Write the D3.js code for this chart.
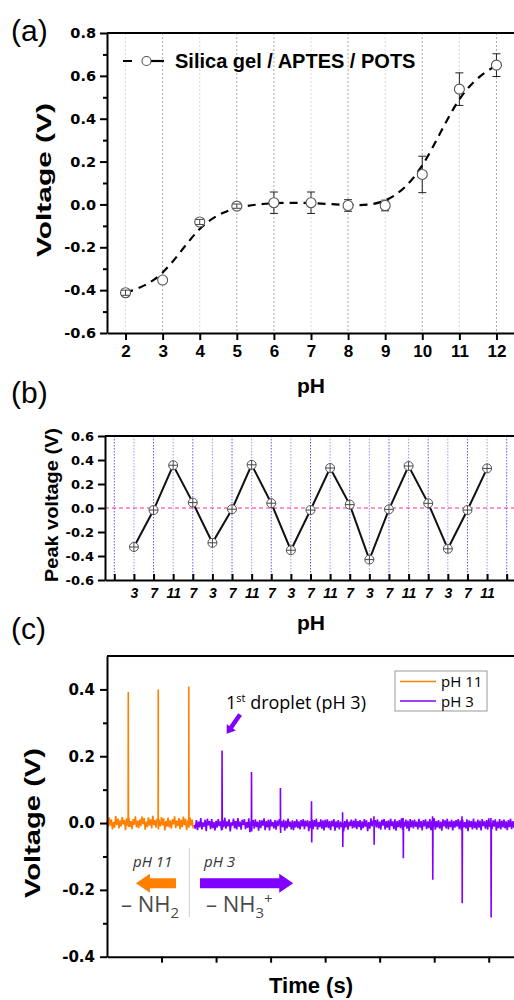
<!DOCTYPE html>
<html>
<head>
<meta charset="utf-8">
<script src="https://cdn.jsdelivr.net/npm/d3@7"></script>
<style>
body { margin: 0; background: #fff; }
</style>
</head>
<body>
<div id="chart"></div>
<script>
// ---- panel (a) ----
const phA = [2, 3, 4, 5, 6, 7, 8, 9, 10, 11, 12];
const voltA = [-0.412, -0.353, -0.082, -0.008, 0.008, 0.008, -0.005, -0.005, 0.14, 0.538, 0.65];
const errA = [0.012, 0.004, 0.012, 0.01, 0.05, 0.05, 0.027, 0.025, 0.085, 0.076, 0.053];
const yTicksA = [-0.6, -0.4, -0.2, 0.0, 0.2, 0.4, 0.6, 0.8];
const yMinorA = [-0.5, -0.3, -0.1, 0.1, 0.3, 0.5, 0.7];
const gridDarkA = [3, 5, 6, 8, 10, 12];

// ---- panel (b) ----
const phB = ["3", "7", "11", "7", "3", "7", "11", "7", "3", "7", "11", "7", "3", "7", "11", "7", "3", "7", "11"];
const peakB = [-0.325, -0.017, 0.356, 0.045, -0.29, -0.01, 0.36, 0.04, -0.352, -0.017, 0.333, 0.028, -0.43, -0.011, 0.35, 0.039, -0.34, -0.017, 0.33];
const yTicksB = [-0.6, -0.4, -0.2, 0.0, 0.2, 0.4, 0.6];

// ---- panel (c) ----
const yTicksC = [-0.4, -0.2, 0.0, 0.2, 0.4];
const yMinorC = [-0.3, -0.1, 0.1, 0.3];
const xTicksC = [1, 2, 3, 4, 5, 6, 7];
const dtC = 0.02;
// baseline noise, mV, one value per dtC
const noise11 = [5,-12,17,-8,11,-19,3,-14,21,-6,13,-16,8,-10,18,-4,9,-21,14,-7,
  16,-11,6,-18,12,-5,20,-13,7,-15,10,-9,19,-3,15,-20,4,-12,17,-8,
  11,-16,22,-6,9,-14,13,-19,5,-10,18,-7,14,-22,6,-11,16,-13,8,-17,
  12,-4,20,-15,7,-9,15,-18,10,-12,19,-6,13,-21,4,-14,17,-8,11,-16];
const noise3 = [-6,-17,9,-21,4,-13,15,-19,2,-11,10,-24,13,-7,6,-18,12,-15,3,-22,
  7,-14,12,-9,5,-22,8,-12,16,-17,5,-10,11,-25,2,-8,13,-16,6,-19,
  15,-11,4,-20,10,-6,12,-18,3,-14,14,-27,5,-9,9,-17,11,-12,4,-23,
  9,-15,8,-8,14,-21,6,-13,10,-22,11,-10,3,-16,9,-20,7,-9,12,-20,
  6,-12,10,-23,7,-16,13,-11,4,-19,8,-21,6,-13,11,-15,5,-19,9,-10,
  12,-18,7,-10,8,-24,6,-15,10,-18,9,-11,13,-20,3,-12,11,-17,8,-22,
  10,-13,11,-15,6,-21,7,-10,12,-23,5,-14,9,-19,4,-12,10,-25,6,-13,
  11,-20,4,-9,10,-16,7,-14,13,-18,6,-12,9,-21,5,-15,12,-11,8,-24,
  3,-17,14,-10,7,-22,9,-13,11,-16,4,-20,10,-8,12,-19,6,-14,8,-21,
  13,-9,5,-18,11,-23,6,-12,9,-15,14,-20,3,-11,10,-17,7,-24,12,-13,
  8,-16,10,-11,4,-19,13,-14,6,-22,9,-10,11,-18,5,-15,12,-21,7,-12,
  14,-20,6,-13,9,-17,4,-23,11,-10,8,-16,13,-19,5,-12,10,-22,6,-14,
  9,-11,12,-18,7,-21,10,-13,3,-16,11,-24,8,-12,6,-19,13,-15,4,-20,
  10,-14,7,-22,12,-9,5,-17,9,-20,14,-12,6,-18,8,-11,11,-23,4,-15,
  12,-19,7,-13,10,-16,5,-21,9,-12,13,-18,6,-14,8,-20];
const start11 = 0, start3 = 1.6;
// droplet spikes: time, max, min (V)
const spikeT11 = [0.39, 0.94, 1.50];
const spikeMax11 = [0.392, 0.40, 0.409];
const spikeMin11 = [-0.012, -0.015, -0.01];
const spikeT3 = [2.11, 2.65, 3.18, 3.75, 4.32, 4.895, 5.43, 5.97, 6.51, 7.04];
const spikeMax3 = [0.217, 0.153, 0.105, 0.065, 0.032, 0.02, 0.015, 0.02, 0.02, 0.015];
const spikeMin3 = [-0.02, -0.025, -0.03, -0.058, -0.072, -0.065, -0.105, -0.17, -0.24, -0.283];

const ORANGE = "#ff8000", PURPLE = "#8000ff";
const boldFont = "'Liberation Sans', Arial, sans-serif";
const tickFont = "'DejaVu Sans', sans-serif";
const softFont = "'Open Sans', sans-serif";

let svg = d3.select("#chart").append("svg")
  .attr("width", 514)
  .attr("height", 1000);

function styleAxis(g, size, family, italic) {
  g.attr("font-family", family).attr("font-size", size).attr("font-weight", "bold");
  g.select(".domain").attr("stroke-width", 2).attr("stroke", "#000");
  g.selectAll(".tick line").attr("stroke-width", 2).attr("stroke", "#000");
  g.selectAll(".tick text").attr("fill", "#000").attr("font-style", italic ? "italic" : "normal");
}

function minorAxis(axis, g) {
  g.call(axis.tickFormat("").tickSize(4).tickSizeOuter(0));
  g.select(".domain").remove();
  g.selectAll(".tick line").attr("stroke-width", 2).attr("stroke", "#000");
}

function panelLabel(txt, y) {
  svg.append("text").attr("x", 11).attr("y", y)
    .attr("font-family", "'Liberation Sans', sans-serif").attr("font-size", 30)
    .text(txt);
}

function yTitle(txt, x, y, size, len) {
  svg.append("text").attr("transform", `translate(${x},${y}) rotate(-90)`)
    .attr("text-anchor", "middle").attr("font-family", boldFont).attr("font-weight", "bold")
    .attr("font-size", size).attr("textLength", len).attr("lengthAdjust", "spacingAndGlyphs")
    .text(txt);
}

// ================= (a) =================
let xA = d3.scaleLinear().domain([1.5, 12.5]).range([107, 515]);
let yA = d3.scaleLinear().domain([-0.6, 0.8]).range([333, 33]);

svg.append("g").selectAll("line").data(phA).enter().append("line")
  .attr("x1", d => xA(d)).attr("x2", d => xA(d))
  .attr("y1", yA(0.8)).attr("y2", yA(-0.6))
  .attr("stroke", d => gridDarkA.includes(d) ? "#a8a8a8" : "#dcdcdc")
  .attr("stroke-width", 1)
  .attr("stroke-dasharray", "2,2");

let ptsA = phA.map((p, i) => ({ x: p, y: voltA[i], e: errA[i] }));

svg.append("path")
  .datum(ptsA)
  .attr("fill", "none")
  .attr("stroke", "#000")
  .attr("stroke-width", 2.2)
  .attr("stroke-dasharray", "8,6")
  .attr("d", d3.line().x(d => xA(d.x)).y(d => yA(d.y)).curve(d3.curveBasis));

function errBars(sel) {
  sel.append("line").attr("x1", d => xA(d.x)).attr("x2", d => xA(d.x))
    .attr("y1", d => yA(d.y - d.e)).attr("y2", d => yA(d.y + d.e));
  sel.append("line").attr("x1", d => xA(d.x) - 4).attr("x2", d => xA(d.x) + 4)
    .attr("y1", d => yA(d.y - d.e)).attr("y2", d => yA(d.y - d.e));
  sel.append("line").attr("x1", d => xA(d.x) - 4).attr("x2", d => xA(d.x) + 4)
    .attr("y1", d => yA(d.y + d.e)).attr("y2", d => yA(d.y + d.e));
}

let ebA = svg.append("g").attr("stroke", "#222").attr("stroke-width", 1)
  .selectAll("g").data(ptsA).enter().append("g");
errBars(ebA);

svg.append("g").selectAll("circle").data(ptsA).enter().append("circle")
  .attr("cx", d => xA(d.x)).attr("cy", d => yA(d.y)).attr("r", 5)
  .attr("fill", "#fff").attr("stroke", "#555").attr("stroke-width", 1.1);

// small error bars stay visible inside the marker
let ebSmall = svg.append("g").attr("stroke", "#444").attr("stroke-width", 1)
  .selectAll("g").data(ptsA.filter(d => yA(0) - yA(d.e) < 5 && d.e > 0.005)).enter().append("g");
errBars(ebSmall);

svg.append("line").attr("x1", 107).attr("x2", 514).attr("y1", 33).attr("y2", 33)
  .attr("stroke", "#000").attr("stroke-width", 2);

let axAx = svg.append("g").attr("transform", "translate(0,333)")
  .call(d3.axisBottom(xA).tickValues(phA).tickFormat(d3.format("d")).tickSize(7).tickSizeOuter(0).tickPadding(5));
styleAxis(axAx, 17, boldFont);
let axAy = svg.append("g").attr("transform", "translate(107,0)")
  .call(d3.axisLeft(yA).tickValues(yTicksA).tickFormat(d => d.toFixed(1)).tickSize(7).tickSizeOuter(0).tickPadding(4));
styleAxis(axAy, 14.5, tickFont);
minorAxis(d3.axisLeft(yA).tickValues(yMinorA), svg.append("g").attr("transform", "translate(107,0)"));

// legend
svg.append("line").attr("x1", 123).attr("x2", 164).attr("y1", 61).attr("y2", 61)
  .attr("stroke", "#000").attr("stroke-width", 2.2).attr("stroke-dasharray", "9,23");
svg.append("line").attr("x1", 151).attr("x2", 164).attr("y1", 61).attr("y2", 61)
  .attr("stroke", "#000").attr("stroke-width", 2.2);
svg.append("circle").attr("cx", 146.5).attr("cy", 61).attr("r", 4.5)
  .attr("fill", "#fff").attr("stroke", "#555").attr("stroke-width", 1.1);
svg.append("text").attr("x", 175).attr("y", 68)
  .attr("font-family", boldFont).attr("font-weight", "bold").attr("font-size", 20)
  .text("Silica gel / APTES / POTS");

yTitle("Voltage (V)", 51, 180, 21, 154);
svg.append("text").attr("x", 311).attr("y", 393).attr("text-anchor", "middle")
  .attr("font-family", boldFont).attr("font-weight", "bold").attr("font-size", 21)
  .text("pH");
panelLabel("(a)", 41);

// ================= (b) =================
let xB = d3.scaleLinear().domain([-0.475, 20.5]).range([105, 516.5]);
let yB = d3.scaleLinear().domain([-0.6, 0.6]).range([580, 436]);
let idxB = d3.range(0, 21);

svg.append("g").selectAll("line").data(idxB).enter().append("line")
  .attr("x1", d => xB(d)).attr("x2", d => xB(d))
  .attr("y1", 436).attr("y2", 580)
  .attr("stroke", d => d % 2 ? "#9a9af5" : "#5c5cf0")
  .attr("stroke-width", 1)
  .attr("stroke-dasharray", "1.5,1.5");

svg.append("line").attr("x1", 105).attr("x2", 514).attr("y1", yB(0)).attr("y2", yB(0))
  .attr("stroke", "#ff2d8a").attr("stroke-width", 1.2).attr("stroke-dasharray", "4,3");

let ptsB = peakB.map((v, i) => ({ x: i + 1, y: v }));

svg.append("path").datum(ptsB)
  .attr("fill", "none").attr("stroke", "#111").attr("stroke-width", 2)
  .attr("d", d3.line().x(d => xB(d.x)).y(d => yB(d.y)));

let mB = svg.append("g").selectAll("g").data(ptsB).enter().append("g")
  .attr("transform", d => `translate(${xB(d.x)},${yB(d.y)})`);
mB.append("circle").attr("r", 4.5).attr("fill", "#fff").attr("stroke", "#555").attr("stroke-width", 1);
mB.append("line").attr("x1", -4.5).attr("x2", 4.5).attr("stroke", "#444").attr("stroke-width", 1);
mB.append("line").attr("y1", -4.5).attr("y2", 4.5).attr("stroke", "#444").attr("stroke-width", 1);

svg.append("line").attr("x1", 105).attr("x2", 514).attr("y1", 436).attr("y2", 436)
  .attr("stroke", "#000").attr("stroke-width", 2);

let axBx = svg.append("g").attr("transform", "translate(0,580)")
  .call(d3.axisBottom(xB).tickValues(idxB)
    .tickFormat(i => (i >= 1 && i <= phB.length) ? phB[i - 1] : "")
    .tickSize(-6).tickSizeOuter(0).tickPadding(8));
styleAxis(axBx, 14, boldFont, true);
let axBy = svg.append("g").attr("transform", "translate(105,0)")
  .call(d3.axisLeft(yB).tickValues(yTicksB).tickFormat(d => d.toFixed(1)).tickSize(7).tickSizeOuter(0).tickPadding(4));
styleAxis(axBy, 13, tickFont);

yTitle("Peak voltage (V)", 58, 505, 18, 154);
svg.append("text").attr("x", 311).attr("y", 630).attr("text-anchor", "middle")
  .attr("font-family", boldFont).attr("font-weight", "bold").attr("font-size", 21)
  .text("pH");
panelLabel("(b)", 403);

// ================= (c) =================
let xC = d3.scaleLinear().domain([0, 7.5]).range([107, 516]);
let yC = d3.scaleLinear().domain([-0.4, 0.5]).range([956.7, 656]);

function trace(noise, t0, spT, spMax, spMin) {
  let pts = noise.map((n, i) => [t0 + i * dtC, n / 1000]);
  spT.forEach((t, i) => {
    pts.push([t - 0.003, 0]);
    pts.push([t, spMax[i]]);
    pts.push([t + 0.004, spMin[i]]);
    pts.push([t + 0.008, 0]);
  });
  pts.sort((a, b) => a[0] - b[0]);
  return pts;
}

let lineC = d3.line().x(d => xC(d[0])).y(d => yC(d[1]));

svg.append("path").datum(trace(noise11, start11, spikeT11, spikeMax11, spikeMin11))
  .attr("fill", "none").attr("stroke", ORANGE).attr("stroke-width", 1.6).attr("d", lineC);
svg.append("path").datum(trace(noise3, start3, spikeT3, spikeMax3, spikeMin3))
  .attr("fill", "none").attr("stroke", PURPLE).attr("stroke-width", 1.6).attr("d", lineC);

svg.append("line").attr("x1", 107).attr("x2", 514).attr("y1", 656).attr("y2", 656)
  .attr("stroke", "#000").attr("stroke-width", 2);

let axCx = svg.append("g").attr("transform", "translate(0,956.7)")
  .call(d3.axisBottom(xC).tickValues(xTicksC).tickFormat("").tickSize(6).tickSizeOuter(0));
styleAxis(axCx, 14, boldFont);
let axCy = svg.append("g").attr("transform", "translate(107,0)")
  .call(d3.axisLeft(yC).tickValues(yTicksC).tickFormat(d => d.toFixed(1)).tickSize(7).tickSizeOuter(0).tickPadding(5));
styleAxis(axCy, 15, tickFont);
minorAxis(d3.axisLeft(yC).tickValues(yMinorC), svg.append("g").attr("transform", "translate(107,0)"));

// legend
let lg = svg.append("g").attr("font-family", softFont).attr("font-size", 15);
lg.append("rect").attr("x", 395).attr("y", 671).attr("width", 92).attr("height", 40)
  .attr("fill", "#fff").attr("stroke", "#999").attr("stroke-width", 1);
[["pH 11", ORANGE, 681.5], ["pH 3", PURPLE, 701]].forEach(([name, c, y]) => {
  lg.append("line").attr("x1", 400).attr("x2", 436).attr("y1", y).attr("y2", y)
    .attr("stroke", c).attr("stroke-width", 1.5);
  lg.append("text").attr("x", 441).attr("y", y + 5.5).text(name);
});

// first droplet annotation
let t1 = svg.append("text").attr("x", 226).attr("y", 709)
  .attr("font-family", softFont).attr("font-size", 18);
t1.append("tspan").text("1");
t1.append("tspan").attr("font-size", 11).attr("dy", -7).text("st");
t1.append("tspan").attr("dy", 7).text(" droplet (pH 3)");

function arrow(xFrom, yFrom, xTo, yTo, shaft, headW, headL, color) {
  let dx = xTo - xFrom, dy = yTo - yFrom;
  let L = Math.hypot(dx, dy), ux = dx / L, uy = dy / L, nx = -uy, ny = ux;
  let bx = xTo - ux * headL, by = yTo - uy * headL;
  let p = [
    [xFrom + nx * shaft / 2, yFrom + ny * shaft / 2],
    [bx + nx * shaft / 2, by + ny * shaft / 2],
    [bx + nx * headW / 2, by + ny * headW / 2],
    [xTo, yTo],
    [bx - nx * headW / 2, by - ny * headW / 2],
    [bx - nx * shaft / 2, by - ny * shaft / 2],
    [xFrom - nx * shaft / 2, yFrom - ny * shaft / 2]
  ];
  svg.append("path").attr("d", "M" + p.join("L") + "Z").attr("fill", color);
}

arrow(xC(2.44), yC(0.325), xC(2.195), yC(0.267), 4.5, 11, 8, PURPLE);
arrow(xC(1.265), yC(-0.18), xC(0.53), yC(-0.18), 10, 19, 14, ORANGE);
arrow(xC(1.705), yC(-0.18), xC(3.415), yC(-0.18), 10, 19, 14, PURPLE);

svg.append("line").attr("x1", 189.3).attr("x2", 189.3).attr("y1", 848).attr("y2", 917)
  .attr("stroke", "#d0d0d0").attr("stroke-width", 1);

svg.append("text").attr("x", 133).attr("y", 867)
  .attr("font-family", softFont).attr("font-style", "italic").attr("font-size", 15).attr("fill", "#333")
  .text("pH 11");
svg.append("text").attr("x", 204).attr("y", 867)
  .attr("font-family", softFont).attr("font-style", "italic").attr("font-size", 15).attr("fill", "#333")
  .text("pH 3");

let nh2 = svg.append("text").attr("x", 121).attr("y", 912)
  .attr("font-family", softFont).attr("font-size", 22).attr("fill", "#4a4a4a");
nh2.append("tspan").text("\u2013 NH");
nh2.append("tspan").attr("font-size", 15).attr("dy", 6).text("2");

let nh3 = svg.append("text").attr("x", 206).attr("y", 912)
  .attr("font-family", softFont).attr("font-size", 22).attr("fill", "#4a4a4a");
nh3.append("tspan").text("\u2013 NH");
nh3.append("tspan").attr("font-size", 15).attr("dy", 6).text("3");
nh3.append("tspan").attr("font-size", 15).attr("dy", -14).text("+");

yTitle("Voltage (V)", 40, 823, 22, 150);
svg.append("text").attr("x", 311).attr("y", 993).attr("text-anchor", "middle")
  .attr("font-family", boldFont).attr("font-weight", "bold").attr("font-size", 22)
  .text("Time (s)");
panelLabel("(c)", 639);
</script>
</body>
</html>
